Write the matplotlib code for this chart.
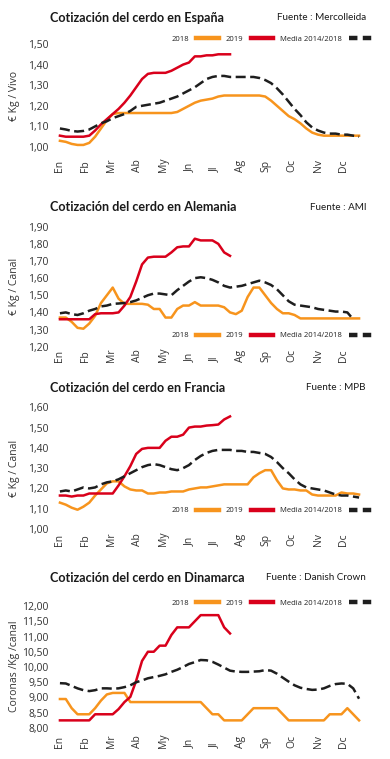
import numpy as np
import matplotlib.pyplot as plt
from matplotlib.lines import Line2D

# colours
c2018 = "#F7941D"
c2019 = "#D9001B"
cmedia = "#1E1E1E"
ctext = "#333333"

months = ["En", "Fb", "Mr", "Ab", "My", "Jn", "Jl", "Ag", "Sp", "Oc", "Nv", "Dc"]

# Espana (euro/kg vivo), weekly
es_2018 = [1.03, 1.025, 1.015, 1.01, 1.01, 1.02, 1.05, 1.09, 1.13, 1.16,
           1.165, 1.165, 1.165, 1.165, 1.165, 1.165, 1.165, 1.165, 1.165, 1.165,
           1.17, 1.185, 1.20, 1.215, 1.225, 1.23, 1.235, 1.245, 1.25, 1.25,
           1.25, 1.25, 1.25, 1.25, 1.25, 1.245, 1.225, 1.20, 1.175, 1.15,
           1.135, 1.115, 1.09, 1.07, 1.06, 1.055, 1.055, 1.055, 1.055, 1.055,
           1.055, 1.055]
es_2019 = [1.055, 1.05, 1.05, 1.05, 1.05, 1.055, 1.08, 1.11, 1.135, 1.16,
           1.185, 1.215, 1.25, 1.29, 1.33, 1.355, 1.36, 1.36, 1.36, 1.37,
           1.385, 1.40, 1.41, 1.44, 1.44, 1.445, 1.445, 1.45, 1.45, 1.45]
es_media = [1.09, 1.085, 1.078, 1.075, 1.078, 1.085, 1.10, 1.115, 1.125, 1.14,
            1.15, 1.16, 1.175, 1.195, 1.20, 1.205, 1.21, 1.215, 1.225, 1.235,
            1.245, 1.26, 1.275, 1.29, 1.31, 1.33, 1.34, 1.345, 1.345, 1.34,
            1.34, 1.34, 1.34, 1.34, 1.335, 1.325, 1.31, 1.285, 1.255, 1.22,
            1.185, 1.155, 1.12, 1.095, 1.08, 1.07, 1.065, 1.065, 1.06, 1.06,
            1.055, 1.05]

# Alemania (euro/kg canal)
de_2018 = [1.37, 1.37, 1.345, 1.31, 1.305, 1.335, 1.38, 1.455, 1.50, 1.545,
           1.48, 1.45, 1.45, 1.45, 1.45, 1.445, 1.42, 1.42, 1.37, 1.37,
           1.42, 1.44, 1.44, 1.46, 1.44, 1.44, 1.44, 1.44, 1.43, 1.40,
           1.39, 1.41, 1.49, 1.545, 1.545, 1.50, 1.455, 1.42, 1.395, 1.395,
           1.385, 1.365, 1.365, 1.365, 1.365, 1.365, 1.365, 1.365, 1.365, 1.365,
           1.365, 1.365]
de_2019 = [1.36, 1.36, 1.36, 1.36, 1.36, 1.36, 1.39, 1.395, 1.395, 1.395,
           1.40, 1.44, 1.49, 1.58, 1.68, 1.72, 1.725, 1.725, 1.725, 1.75,
           1.78, 1.785, 1.785, 1.83, 1.82, 1.82, 1.82, 1.80, 1.75, 1.73]
de_media = [1.395, 1.40, 1.39, 1.385, 1.395, 1.41, 1.42, 1.435, 1.44, 1.45,
            1.452, 1.455, 1.46, 1.47, 1.485, 1.50, 1.51, 1.51, 1.505, 1.50,
            1.53, 1.555, 1.58, 1.60, 1.605, 1.60, 1.59, 1.575, 1.555, 1.545,
            1.55, 1.555, 1.565, 1.575, 1.585, 1.575, 1.56, 1.535, 1.50, 1.465,
            1.445, 1.44, 1.435, 1.43, 1.42, 1.415, 1.41, 1.405, 1.405, 1.40,
            1.36]

# Francia (euro/kg canal)
fr_2018 = [1.13, 1.12, 1.105, 1.095, 1.11, 1.13, 1.165, 1.195, 1.225, 1.235,
           1.235, 1.21, 1.195, 1.19, 1.19, 1.175, 1.175, 1.18, 1.18, 1.185,
           1.185, 1.185, 1.195, 1.20, 1.205, 1.205, 1.21, 1.215, 1.22, 1.22,
           1.22, 1.22, 1.22, 1.255, 1.275, 1.29, 1.29, 1.24, 1.20, 1.195,
           1.195, 1.19, 1.19, 1.17, 1.165, 1.165, 1.165, 1.165, 1.18, 1.175,
           1.175, 1.17]
fr_2019 = [1.165, 1.165, 1.16, 1.165, 1.165, 1.175, 1.175, 1.175, 1.175, 1.175,
           1.215, 1.26, 1.31, 1.37, 1.395, 1.40, 1.40, 1.40, 1.435, 1.455,
           1.455, 1.465, 1.50, 1.505, 1.505, 1.51, 1.512, 1.515, 1.54, 1.555]
fr_media = [1.185, 1.19, 1.185, 1.195, 1.205, 1.20, 1.205, 1.22, 1.23, 1.235,
            1.245, 1.26, 1.275, 1.29, 1.305, 1.315, 1.32, 1.315, 1.305, 1.295,
            1.29, 1.30, 1.315, 1.34, 1.36, 1.375, 1.385, 1.39, 1.39, 1.39,
            1.385, 1.385, 1.38, 1.38, 1.375, 1.37, 1.355, 1.33, 1.30, 1.275,
            1.245, 1.22, 1.205, 1.20, 1.195, 1.19, 1.18, 1.17, 1.165, 1.165,
            1.16, 1.155]

# Dinamarca (coronas/kg canal)
dk_2018 = [8.95, 8.95, 8.65, 8.45, 8.45, 8.45, 8.65, 8.90, 9.10, 9.15,
           9.15, 9.15, 8.85, 8.85, 8.85, 8.85, 8.85, 8.85, 8.85, 8.85,
           8.85, 8.85, 8.85, 8.85, 8.85, 8.65, 8.45, 8.45, 8.25, 8.25,
           8.25, 8.25, 8.45, 8.65, 8.65, 8.65, 8.65, 8.65, 8.45, 8.25,
           8.25, 8.25, 8.25, 8.25, 8.25, 8.25, 8.45, 8.45, 8.45, 8.65,
           8.45, 8.25]
dk_2019 = [8.25, 8.25, 8.25, 8.25, 8.25, 8.25, 8.45, 8.45, 8.45, 8.45,
           8.62, 8.85, 9.02, 9.55, 10.20, 10.50, 10.50, 10.70, 10.70, 11.05,
           11.30, 11.30, 11.30, 11.50, 11.70, 11.70, 11.70, 11.70, 11.30, 11.10]
dk_media = [9.47, 9.46, 9.38, 9.30, 9.24, 9.21, 9.24, 9.30, 9.30, 9.29,
            9.30, 9.34, 9.40, 9.50, 9.56, 9.63, 9.67, 9.71, 9.76, 9.84,
            9.91, 10.00, 10.10, 10.16, 10.23, 10.22, 10.17, 10.08, 9.98, 9.88,
            9.85, 9.84, 9.84, 9.85, 9.86, 9.90, 9.88, 9.78, 9.65, 9.52,
            9.40, 9.32, 9.28, 9.25, 9.26, 9.30, 9.38, 9.44, 9.46, 9.45,
            9.30, 8.96]

W, H = 390, 759
fig = plt.figure(figsize=(W / 100, H / 100), dpi=100)
plt.rcParams['font.family'] = ['Open Sans', 'DejaVu Sans']
narrow = ['Lato', 'DejaVu Sans']

month_pos = np.arange(12) * 4.4


def fmt(v):
    return f"{v:.2f}".replace(".", ",")


def panel(title, fuente, ylabel, s2018, s2019, smedia, yticks,
          ylo_px, yhi_px, top, bottom, title_y, legend_y, xlab_pad):
    # axes in pixel units of the figure
    left, right = 57, 362
    ax = fig.add_axes([left / W, 1 - bottom / H, (right - left) / W, (bottom - top) / H])
    lo, hi = yticks[0], yticks[-1]
    scale = (hi - lo) / (ylo_px - yhi_px)
    ax.set_ylim(lo - (bottom - ylo_px) * scale, hi + (yhi_px - top) * scale)
    ax.set_xlim(-0.5, 51.5)

    ax.plot(np.arange(len(s2018)), s2018, color=c2018, lw=1.8, solid_joinstyle='round')
    ax.plot(np.arange(len(s2019)), s2019, color=c2019, lw=1.8, solid_joinstyle='round')
    ax.plot(np.arange(len(smedia)), smedia, color=cmedia, lw=1.8, dashes=(4.0, 1.8))

    for sp in ax.spines.values():
        sp.set_visible(False)
    ax.set_yticks(yticks)
    ax.set_yticklabels([fmt(v) for v in yticks])
    ax.tick_params(axis='y', length=0, pad=6, labelsize=7.5, labelcolor=ctext)
    ax.set_xticks(month_pos)
    ax.set_xticklabels(months, rotation=90)
    ax.tick_params(axis='x', length=0, pad=xlab_pad, labelsize=7.5, labelcolor=ctext)
    for lbl in ax.get_xticklabels():
        lbl.set_va('bottom')

    fig.text(50 / W, 1 - title_y / H, title, fontsize=9.1, fontweight='bold',
             family=narrow, color="#1a1a1a", ha='left', va='center')
    fig.text(366 / W, 1 - title_y / H, fuente, fontsize=7.1, family=narrow,
             color="#1a1a1a", ha='right', va='center')
    fig.text(15 / W, 1 - (top + bottom) / 2 / H, ylabel, fontsize=7.5, color=ctext,
             rotation=90, ha='center', va='center')

    handles = [Line2D([], [], color=c2018, lw=3.2),
               Line2D([], [], color=c2019, lw=3.2),
               Line2D([], [], color=cmedia, lw=3.2, dashes=(1.9, 1.2))]
    fig.legend(handles, ["2018", "2019", "Media 2014/2018"], ncol=3,
               markerfirst=False, frameon=False, fontsize=5.5,
               loc='center right', bbox_to_anchor=(372 / W, 1 - legend_y / H),
               handlelength=3.0, handletextpad=0.9, columnspacing=0.9,
               labelcolor="#222222", borderpad=0, borderaxespad=0)
    return ax


panel("Cotización del cerdo en España", "Fuente : Mercolleida", "€ Kg / Vivo",
      es_2018, es_2019, es_media, [1.0, 1.1, 1.2, 1.3, 1.4, 1.5],
      147, 44, 40, 151, 18, 39, 15)
panel("Cotización del cerdo en Alemania", "Fuente : AMI", "€ Kg / Canal",
      de_2018, de_2019, de_media, [1.2, 1.3, 1.4, 1.5, 1.6, 1.7, 1.8, 1.9],
      346.7, 226.7, 222, 350, 207, 335.5, 9)
panel("Cotización del cerdo en Francia", "Fuente : MPB", "€ Kg / Canal",
      fr_2018, fr_2019, fr_media, [1.0, 1.1, 1.2, 1.3, 1.4, 1.5, 1.6],
      529, 407.3, 403, 533, 388, 510.5, 9)
panel("Cotización del cerdo en Dinamarca", "Fuente : Danish Crown", "Coronas /Kg /canal",
      dk_2018, dk_2019, dk_media, [8.0, 8.5, 9.0, 9.5, 10.0, 10.5, 11.0, 11.5, 12.0],
      728, 606, 602, 731, 578, 603, 12)

fig.savefig("out.png", dpi=100)
